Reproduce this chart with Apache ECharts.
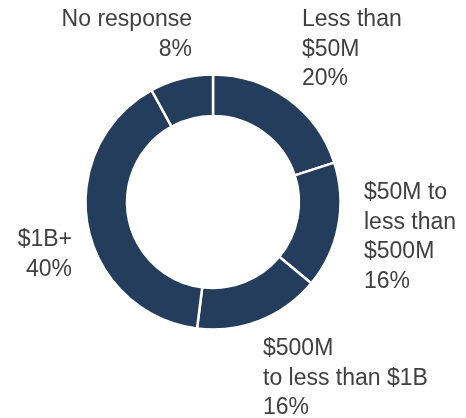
<!DOCTYPE html>
<html>
<head>
<meta charset="utf-8">
<script src="https://cdn.jsdelivr.net/npm/echarts@6/dist/echarts.min.js"></script>
<style>
  html, body { margin: 0; padding: 0; background: #ffffff; }
  #chart { width: 466px; height: 418px; }
</style>
</head>
<body>
<div id="chart"></div>
<script>
// Revenue bands, clockwise from twelve o'clock
const categories = [
  'Less than\n$50M',
  '$50M to\nless than\n$500M',
  '$500M\nto less than $1B',
  '$1B+',
  'No response'
];
const shares = [20, 16, 16, 40, 8];

// Where each label block sits (anchor point and text alignment)
const labelSpots = [
  { x: 302, y: 5,   align: 'left'  },
  { x: 364, y: 178, align: 'left'  },
  { x: 263, y: 334, align: 'left'  },
  { x: 72,  y: 225, align: 'right' },
  { x: 192, y: 5,   align: 'right' }
];

const pieData = categories.map((name, i) => ({ name: name, value: shares[i] }));

const chart = echarts.init(document.getElementById('chart'), null, { renderer: 'canvas' });
chart.setOption({
  animation: false,
  backgroundColor: '#ffffff',
  series: [{
    type: 'pie',
    center: [213, 202],
    radius: [86, 127.5],
    startAngle: 90,
    clockwise: true,
    avoidLabelOverlap: false,
    itemStyle: {
      color: '#243d5c',
      borderColor: '#ffffff',
      borderWidth: 2.5
    },
    emphasis: { disabled: true },
    label: {
      show: true,
      position: 'outside',
      formatter: p => p.name + '\n' + Math.round(p.percent) + '%',
      color: '#404040',
      fontFamily: '"Liberation Sans", Arial, sans-serif',
      fontSize: 23,
      lineHeight: 29.5
    },
    labelLine: { show: false },
    labelLayout: function (params) {
      const s = labelSpots[params.dataIndex];
      return { x: s.x, y: s.y, align: s.align, verticalAlign: 'top' };
    },
    data: pieData
  }]
});
</script>
</body>
</html>
